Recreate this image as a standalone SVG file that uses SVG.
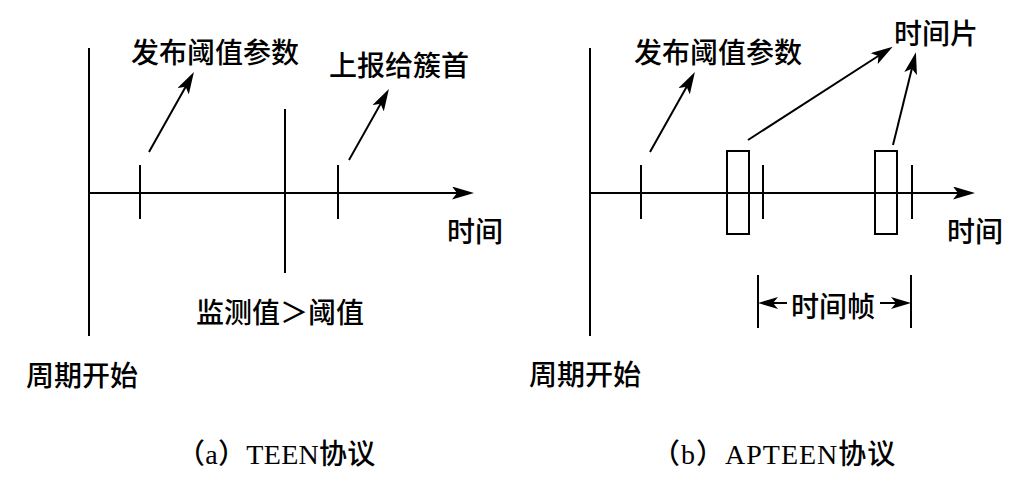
<svg xmlns="http://www.w3.org/2000/svg" width="1030" height="482" viewBox="0 0 1030 482">
<style>
.ln{stroke:#000;stroke-width:2;fill:none}
.ar{stroke:#000;stroke-width:2;fill:none;marker-end:url(#ah)}
.ar2{stroke:#000;stroke-width:2;fill:none;marker-end:url(#ah2)}
.t{font-family:"Noto Sans CJK SC","Liberation Sans",sans-serif;font-size:28px;font-weight:500;fill:#000}
.cap{font-family:"Liberation Serif","Noto Sans CJK SC",serif;font-size:28px;font-weight:500;fill:#000}
</style>
<defs>
<marker id="ah" viewBox="0 0 22 13" markerWidth="22" markerHeight="13" refX="14" refY="6.5" orient="auto" markerUnits="userSpaceOnUse">
<path d="M0,0 L22,6.5 L0,13 L5,6.5 Z" fill="#000"/>
</marker>
<marker id="ah2" viewBox="0 0 20 12" markerWidth="20" markerHeight="12" refX="12" refY="6" orient="auto" markerUnits="userSpaceOnUse">
<path d="M0,0 L20,6 L0,12 L5,6 Z" fill="#000"/>
</marker>
</defs>
<rect width="1030" height="482" fill="#fff"/>

<g id="diagram-a">
<g id="a-lines">
<line class="ln" x1="89" y1="48" x2="89" y2="336"/>
<line class="ln" x1="140" y1="165" x2="140" y2="219"/>
<line class="ln" x1="285" y1="109" x2="285" y2="273"/>
<line class="ln" x1="338" y1="165" x2="338" y2="219"/>
</g>
<g id="a-connectors">
<line class="ar" x1="89" y1="193" x2="466" y2="193"/>
<line class="ar" x1="149" y1="152" x2="190" y2="79"/>
<line class="ar" x1="349" y1="160" x2="385" y2="96"/>
</g>
<g id="a-labels">
<text class="t" x="131" y="63">发布阈值参数</text>
<text class="t" x="329" y="76">上报给簇首</text>
<text class="t" x="447" y="242">时间</text>
<text class="t" x="196" y="323">监测值＞阈值</text>
<text class="t" x="26" y="386">周期开始</text>
<text class="cap" x="177" y="464" letter-spacing="0.3">（a）TEEN协议</text>
</g>
</g>

<g id="diagram-b">
<g id="b-lines">
<line class="ln" x1="590" y1="48" x2="590" y2="336"/>
<line class="ln" x1="641" y1="165" x2="641" y2="219"/>
<rect class="ln" x="727" y="151" width="22" height="83"/>
<line class="ln" x1="763" y1="165" x2="763" y2="219"/>
<rect class="ln" x="875" y="151" width="22" height="83"/>
<line class="ln" x1="912" y1="165" x2="912" y2="219"/>
<line class="ln" x1="758" y1="275" x2="758" y2="328"/>
<line class="ln" x1="911" y1="275" x2="911" y2="328"/>
</g>
<g id="b-connectors">
<line class="ar" x1="590" y1="193" x2="967" y2="193"/>
<line class="ar" x1="650" y1="152" x2="691" y2="79"/>
<line class="ar" x1="748" y1="140" x2="886" y2="51"/>
<line class="ar" x1="893" y1="145" x2="914" y2="60"/>
<line class="ar2" x1="787" y1="303" x2="766" y2="303"/>
<line class="ar2" x1="880" y1="303" x2="903" y2="303"/>
</g>
<g id="b-labels">
<text class="t" x="634" y="63">发布阈值参数</text>
<text class="t" x="894" y="44">时间片</text>
<text class="t" x="947" y="242">时间</text>
<text class="t" x="791" y="317">时间帧</text>
<text class="t" x="529" y="385">周期开始</text>
<text class="cap" x="652" y="464" letter-spacing="1">（b）APTEEN协议</text>
</g>
</g>
</svg>
